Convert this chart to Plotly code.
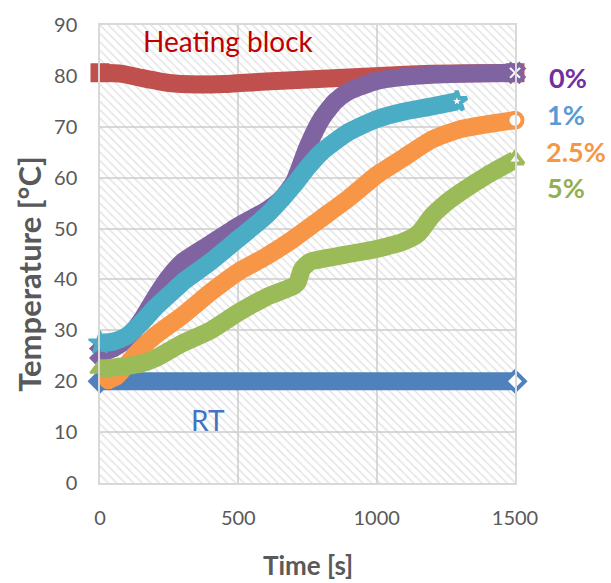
import plotly.graph_objects as go

# Time axis (s) and temperature readings (°C) per sample
rt_t = [0, 250, 500, 750, 1000, 1250, 1500]
rt_T = [20, 20, 20, 20, 20, 20, 20]

block_t = [0, 80, 150, 250, 350, 450, 600, 750, 900, 1050, 1200, 1350, 1500]
block_T = [80.6, 80.4, 79.6, 78.6, 78.3, 78.4, 78.9, 79.3, 79.7, 80.1, 80.4, 80.5, 80.6]

p0_t = [0, 50, 100, 150, 200, 250, 300, 400, 500, 600, 650, 700, 750, 800, 850, 900, 1000, 1100, 1200, 1300, 1400, 1500]
p0_T = [25.5, 26.5, 28.5, 32, 36.5, 40.5, 43.5, 47, 50.5, 53.5, 55.5, 59, 66, 71.5, 75, 77, 79, 79.8, 80.2, 80.4, 80.5, 80.6]

p1_t = [0, 50, 100, 150, 200, 250, 300, 400, 500, 600, 700, 750, 800, 900, 1000, 1100, 1200, 1290]
p1_T = [27.5, 27.8, 29, 31.5, 34.5, 37, 39.5, 43.5, 48, 52.5, 58.5, 62, 65, 69, 71.5, 73, 74, 75]

p25_t = [30, 60, 100, 150, 200, 300, 400, 500, 600, 700, 800, 900, 1000, 1100, 1200, 1300, 1400, 1500]
p25_T = [20.3, 21, 23.5, 26.5, 29, 33, 37.5, 41.5, 44.5, 48, 52, 56, 60.5, 64, 67.5, 69.5, 70.5, 71.3]

p5_t = [0, 50, 100, 150, 200, 250, 300, 400, 500, 600, 700, 715, 730, 760, 800, 900, 1000, 1100, 1150, 1200, 1250, 1300, 1400, 1500]
p5_T = [22.5, 22.7, 23, 23.5, 24.5, 26, 27.5, 30, 33.5, 36.5, 38.7, 39.5, 42, 43.5, 44, 45, 46, 47.5, 49, 52.5, 55, 57, 60.5, 63.5]

x_ticks = [0, 500, 1000, 1500]
y_ticks = [0, 10, 20, 30, 40, 50, 60, 70, 80, 90]
X_RANGE = [0, 1500]
Y_RANGE = [0, 90]

FONT = "Lato"
GRAY = "#595959"
GRID = "#d9d9d9"

series = [
    (rt_t, rt_T, "#4f81bd", "diamond"),
    (block_t, block_T, "#c0504d", "square"),
    (p0_t, p0_T, "#8064a2", "x"),
    (p1_t, p1_T, "#4bacc6", "star"),
    (p25_t, p25_T, "#f79646", "circle"),
    (p5_t, p5_T, "#9bbb59", "triangle-up"),
]

fig = go.Figure()

# Hatched plot-area background (transparent gaps keep gridlines visible)
fig.add_trace(go.Scatter(
    x=[X_RANGE[0], X_RANGE[1], X_RANGE[1], X_RANGE[0], X_RANGE[0]],
    y=[Y_RANGE[0], Y_RANGE[0], Y_RANGE[1], Y_RANGE[1], Y_RANGE[0]],
    mode="none", fill="toself",
    fillpattern=dict(shape="\\", fgcolor="#c8c8c8", bgcolor="rgba(0,0,0,0)",
                     size=6, solidity=0.25, fillmode="overlay"),
    fillcolor="rgba(0,0,0,0)",
    hoverinfo="skip", showlegend=False,
))

for t, T, color, sym in series:
    fig.add_trace(go.Scatter(
        x=t, y=T, mode="lines",
        line=dict(color=color, width=18, shape="spline", smoothing=0.6),
        showlegend=False, hoverinfo="skip", cliponaxis=False,
    ))
    # first sample: solid marker; last sample: open marker
    fig.add_trace(go.Scatter(
        x=[t[0]], y=[T[0]], mode="markers",
        marker=dict(symbol=sym, size=17, color=color, line=dict(color=color, width=2)),
        showlegend=False, hoverinfo="skip", cliponaxis=False,
    ))
    fig.add_trace(go.Scatter(
        x=[t[-1]], y=[T[-1]], mode="markers",
        marker=dict(symbol=sym, size=15, color="white", line=dict(color=color, width=4)),
        showlegend=False, hoverinfo="skip", cliponaxis=False,
    ))

axis_common = dict(
    showgrid=True, gridcolor=GRID, gridwidth=1.5,
    showline=True, linecolor=GRID, linewidth=1.5, mirror=True,
    zeroline=False, automargin=False,
    ticks="outside", tickcolor="rgba(0,0,0,0)",
    tickfont=dict(family=FONT, size=20, color=GRAY),
)

fig.update_xaxes(range=X_RANGE, tickvals=x_ticks, ticklen=16, **axis_common)
fig.update_yaxes(range=Y_RANGE, tickvals=y_ticks, ticklen=17, **axis_common)

# Axis titles
fig.add_annotation(x=0.5, y=-0.178, xref="paper", yref="paper", text="<b>Time [s]</b>",
                   showarrow=False, yanchor="middle",
                   font=dict(family=FONT, size=26, color=GRAY))
fig.add_annotation(x=-0.173, y=0.455, xref="paper", yref="paper", text="<b>Temperature [°C]</b>",
                   showarrow=False, textangle=-90, xanchor="center", yanchor="middle",
                   font=dict(family=FONT, size=31, color=GRAY))

# In-plot labels (data coordinates)
fig.add_annotation(x=465, y=86.8, xref="x", yref="y", text="Heating block", showarrow=False,
                   font=dict(family=FONT, size=28, color="#c00000"))
fig.add_annotation(x=390, y=12.3, xref="x", yref="y", text="RT", showarrow=False,
                   font=dict(family=FONT, size=28, color="#4472c4"))

# Series labels to the right of the plot area (paper coordinates)
side_labels = [
    ("<b>0%</b>", 1.078, 0.885, "#7030a0"),
    ("<b>1%</b>", 1.072, 0.805, "#5b9bd5"),
    ("<b>2.5%</b>", 1.070, 0.724, "#f79646"),
    ("<b>5%</b>", 1.072, 0.645, "#92b050"),
]
for text, x, y, color in side_labels:
    fig.add_annotation(x=x, y=y, xref="paper", yref="paper", text=text, showarrow=False,
                       xanchor="left", yanchor="middle",
                       font=dict(family=FONT, size=27, color=color))

fig.update_layout(
    width=611, height=583,
    margin=dict(l=100, r=96, t=25, b=100),
    paper_bgcolor="white", plot_bgcolor="white",
)

fig.write_html("out.html")
